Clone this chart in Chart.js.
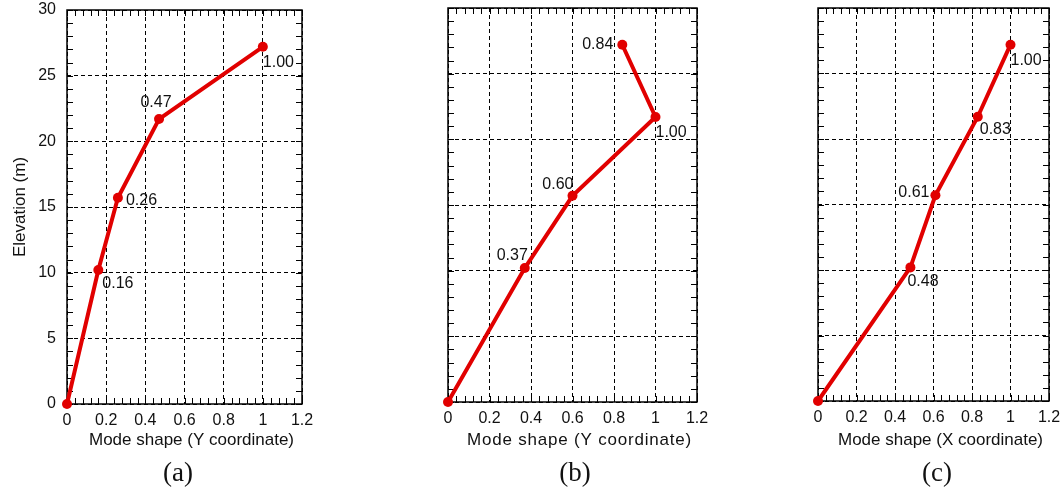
<!DOCTYPE html>
<html>
<head>
<meta charset="utf-8">
<script src="https://cdn.jsdelivr.net/npm/chart.js@4.4.1/dist/chart.umd.min.js"></script>
<style>
  body { margin: 0; background: #fff; width: 1063px; height: 494px; position: relative; overflow: hidden; }
  .panel { position: absolute; top: 0; height: 460px; }
  .cap { position: absolute; top: 457px; font-family: "Liberation Serif", "Times New Roman", serif; font-size: 27px; color: #111; transform: translateX(-50%); }
</style>
</head>
<body>
<div class="panel" style="left:0;width:330px"><canvas id="chart-a"></canvas></div>
<div class="panel" style="left:420px;width:300px"><canvas id="chart-b"></canvas></div>
<div class="panel" style="left:790px;width:273px"><canvas id="chart-c"></canvas></div>
<div class="cap" style="left:178px">(a)</div>
<div class="cap" style="left:575px">(b)</div>
<div class="cap" style="left:937px">(c)</div>

<script>
// DATA
const elevations = [0, 10.2, 15.7, 21.7, 27.2];
const modeA = [0, 0.16, 0.26, 0.47, 1.00];
const modeB = [0, 0.37, 0.60, 1.00, 0.84];
const modeC = [0, 0.48, 0.61, 0.83, 1.00];
const xTicks = [0, 0.2, 0.4, 0.6, 0.8, 1, 1.2];
const yTicks = [0, 5, 10, 15, 20, 25, 30];

const FONT = '"Liberation Sans", Arial, sans-serif';
const RED = '#e10000';

// label placement per point: [dx, dy, align] (null = no label)
const placeA = [null, [4, 14, 'left'], [8, 3, 'left'], [-3, -16, 'center'], [0, 16, 'left']];
const placeB = [null, [3, -12, 'right'], [1, -11, 'right'], [0, 16, 'left'], [-9, 0, 'right']];
const placeC = [null, [-3, 14, 'left'], [-6, -3, 'right'], [2, 13, 'left'], [0, 16, 'left']];

// frame, minor ticks, value labels, x title
const decorPlugin = {
    id: 'decor',
    beforeDatasetsDraw(chart) {
        const { ctx, chartArea: a, scales: { x, y } } = chart;
        ctx.save();
        ctx.strokeStyle = '#000';
        ctx.lineWidth = 1;
        ctx.beginPath();
        for (let i = 0; i <= 30; i++) {
            const px = Math.round(x.getPixelForValue(i * 0.04)) + 0.5;
            ctx.moveTo(px, a.bottom); ctx.lineTo(px, a.bottom - 6);
            ctx.moveTo(px, a.top); ctx.lineTo(px, a.top + 6);
            const py = Math.round(y.getPixelForValue(i)) + 0.5;
            ctx.moveTo(a.left, py); ctx.lineTo(a.left + 6, py);
            ctx.moveTo(a.right, py); ctx.lineTo(a.right - 6, py);
        }
        ctx.stroke();
        ctx.lineWidth = 1.5;
        ctx.strokeRect(a.left, a.top, a.right - a.left, a.bottom - a.top);
        ctx.restore();
    },
    afterDatasetsDraw(chart, args, opts) {
        const { ctx, chartArea: a } = chart;
        const meta = chart.getDatasetMeta(0);
        const vals = chart.data.datasets[0].data;
        ctx.save();
        ctx.fillStyle = '#111';
        ctx.font = '16px ' + FONT;
        ctx.textBaseline = 'middle';
        meta.data.forEach((pt, i) => {
            const p = opts.place[i];
            if (!p) return;
            ctx.textAlign = p[2];
            ctx.fillText(vals[i].x.toFixed(2), pt.x + p[0], pt.y + p[1]);
        });
        ctx.font = '17px ' + FONT;
        ctx.letterSpacing = opts.spacing || '0px';
        ctx.textAlign = 'center';
        ctx.fillText(opts.xTitle, (a.left + a.right) / 2 + 7, 440);
        ctx.restore();
    }
};

function makeChart(id, mode, place, xTitle, box, showY, spacing) {
    return new Chart(document.getElementById(id), {
        type: 'scatter',
        data: {
            datasets: [{
                data: mode.map((v, i) => ({ x: v, y: elevations[i] })),
                showLine: true,
                borderColor: RED,
                backgroundColor: RED,
                borderWidth: 4,
                pointRadius: 5,
                pointBorderWidth: 0,
                clip: false
            }]
        },
        options: {
            responsive: true,
            maintainAspectRatio: false,
            animation: false,
            layout: { padding: { top: box.top, right: box.right, left: 0, bottom: 0 } },
            plugins: {
                legend: { display: false },
                tooltip: { enabled: false },
                decor: { place, xTitle, spacing }
            },
            scales: {
                x: {
                    type: 'linear',
                    min: xTicks[0],
                    max: xTicks[xTicks.length - 1],
                    afterBuildTicks: s => { s.ticks = xTicks.map(v => ({ value: v })); },
                    afterFit: s => { s.height = box.xh; s.paddingLeft = 0; s.paddingRight = 0; },
                    grid: { color: '#000', lineWidth: 1, drawTicks: false },
                    border: { display: false, dash: [4, 3] },
                    ticks: {
                        padding: 7,
                        color: '#111',
                        font: { family: FONT, size: 16 },
                        maxRotation: 0,
                        callback: v => String(Number(v.toFixed(1)))
                    }
                },
                y: {
                    type: 'linear',
                    min: yTicks[0],
                    max: yTicks[yTicks.length - 1],
                    afterBuildTicks: s => { s.ticks = yTicks.map(v => ({ value: v })); },
                    afterFit: s => { s.width = box.yw; s.paddingTop = 0; s.paddingBottom = 0; },
                    grid: { color: '#000', lineWidth: 1, drawTicks: false },
                    border: { display: false, dash: [4, 3] },
                    ticks: {
                        display: showY,
                        padding: 11,
                        color: '#111',
                        font: { family: FONT, size: 16 }
                    },
                    title: {
                        display: showY,
                        text: 'Elevation (m)',
                        color: '#111',
                        font: { family: FONT, size: 17 },
                        padding: { top: 10, bottom: 0 }
                    }
                }
            }
        },
        plugins: [decorPlugin]
    });
}

makeChart('chart-a', modeA, placeA, 'Mode shape (Y coordinate)', { top: 10, right: 28, xh: 56, yw: 67 }, true, '0px');
makeChart('chart-b', modeB, placeB, 'Mode shape (Y coordinate)', { top: 8, right: 23, xh: 58, yw: 28 }, false, '0.8px');
makeChart('chart-c', modeC, placeC, 'Mode shape (X coordinate)', { top: 8, right: 14, xh: 59, yw: 28 }, false, '0px');
</script>
</body>
</html>
